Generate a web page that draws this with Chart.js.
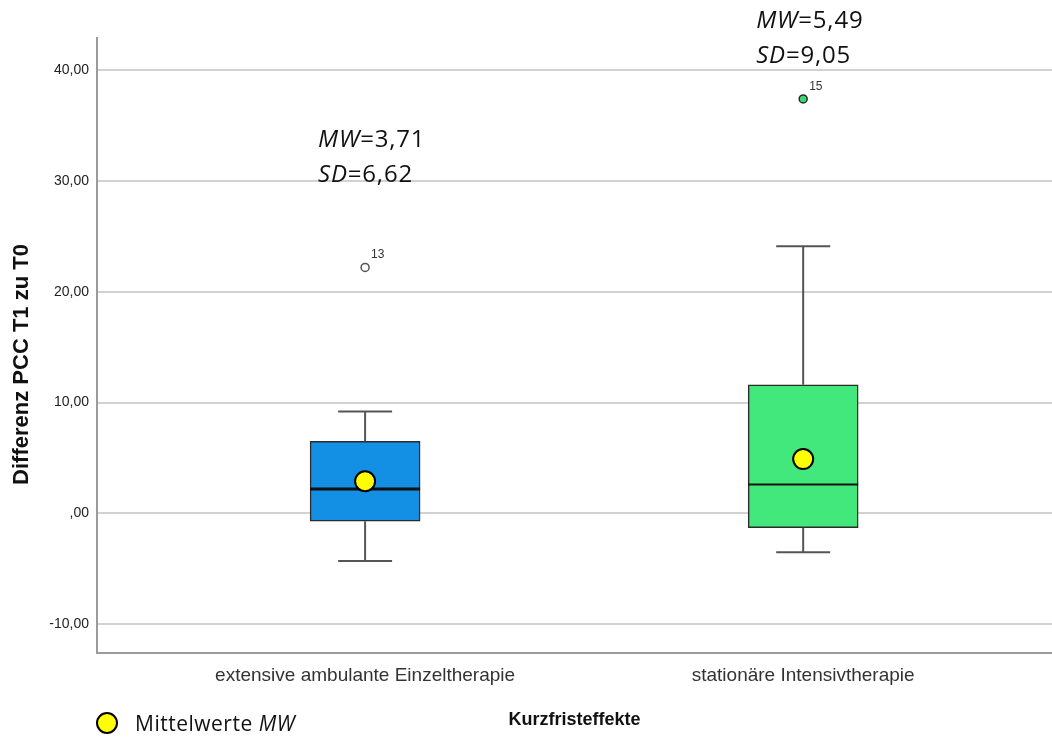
<!DOCTYPE html>
<html lang="de">
<head>
<meta charset="utf-8">
<title>Kurzfristeffekte</title>
<script src="https://cdn.jsdelivr.net/npm/chart.js@4.4.1/dist/chart.umd.min.js"></script>
<style>
  html, body { margin: 0; padding: 0; background: #fff; overflow: hidden; }
  #wrap { position: relative; width: 1052px; height: 739px; }
  #chart { display: block; }
</style>
</head>
<body>
<div id="wrap"><canvas id="chart"></canvas></div>
<script>
// Boxplot data
const categories = ["extensive ambulante Einzeltherapie", "stationäre Intensivtherapie"];
const groupPos = [1, 2];
const whiskerLow = [-4.3, -3.5];
const q1 = [-0.7, -1.3];
const median = [2.2, 2.6];
const q3 = [6.5, 11.6];
const whiskerHigh = [9.2, 24.1];
const means = [2.9, 4.9];
const outlierGroup = [1, 2];
const outlierValues = [22.2, 37.4];
const outlierCase = ["13", "15"];
const meanLabels = ["3,71", "5,49"];
const sdLabels = ["6,62", "9,05"];
const yTicks = [-10, 0, 10, 20, 30, 40];

const boxColors = ["#138fe4", "#42e87c"];
const sans = "'Liberation Sans', Arial, sans-serif";
const textFont = "'Open Sans', 'Noto Sans', sans-serif";

const fmt = (v) => (v === 0 ? ",00" : v.toFixed(2).replace(".", ","));

// draws mixed italic / regular pieces left to right
function drawMixed(ctx, x, y, parts, size, spacing) {
  let cx = x;
  ctx.letterSpacing = spacing + "px";
  parts.forEach(([text, italic]) => {
    ctx.font = `${italic ? "italic " : ""}${size}px ${textFont}`;
    ctx.fillText(text, cx, y);
    cx += ctx.measureText(text).width;
  });
  ctx.letterSpacing = "0px";
}

const boxPlotExtras = {
  id: "boxPlotExtras",
  afterDatasetDraw(chart, args, opts) {
    if (args.index !== 0) return;
    const { ctx, scales: { x, y } } = chart;
    const bars = args.meta.data;
    ctx.save();
    groupPos.forEach((g, i) => {
      const cx = x.getPixelForValue(g);
      const half = bars[i].width / 2;
      const capHalf = opts.capHalf;
      const yHi = y.getPixelForValue(whiskerHigh[i]);
      const yLo = y.getPixelForValue(whiskerLow[i]);
      ctx.strokeStyle = "#555";
      ctx.lineWidth = 2;
      ctx.beginPath();
      ctx.moveTo(cx, y.getPixelForValue(q3[i]));
      ctx.lineTo(cx, yHi);
      ctx.moveTo(cx - capHalf, yHi);
      ctx.lineTo(cx + capHalf, yHi);
      ctx.moveTo(cx, y.getPixelForValue(q1[i]));
      ctx.lineTo(cx, yLo);
      ctx.moveTo(cx - capHalf, yLo);
      ctx.lineTo(cx + capHalf, yLo);
      ctx.stroke();

      const ym = y.getPixelForValue(median[i]);
      ctx.strokeStyle = "#111";
      ctx.lineWidth = i === 0 ? 3 : 2;
      ctx.beginPath();
      ctx.moveTo(cx - half, ym);
      ctx.lineTo(cx + half, ym);
      ctx.stroke();
    });
    ctx.restore();
  },
  afterDraw(chart, args, opts) {
    const { ctx, scales: { x, y }, chartArea } = chart;
    ctx.save();
    ctx.fillStyle = "#111";
    ctx.textBaseline = "alphabetic";
    ctx.textAlign = "left";

    // MW / SD annotations above each box
    groupPos.forEach((g, i) => {
      const left = x.getPixelForValue(g) + opts.labelDx;
      const base = y.getPixelForValue(opts.labelValue[i]);
      drawMixed(ctx, left, base, [["MW", true], ["=" + meanLabels[i], false]], 24, 0.8);
      drawMixed(ctx, left, base + 35, [["SD", true], ["=" + sdLabels[i], false]], 24, 0.8);
    });

    // case numbers next to outliers
    ctx.font = `12px ${sans}`;
    ctx.fillStyle = "#333";
    outlierValues.forEach((v, i) => {
      ctx.fillText(outlierCase[i], x.getPixelForValue(outlierGroup[i]) + 6, y.getPixelForValue(v) - 9);
    });

    // y axis title
    ctx.save();
    ctx.translate(22, (chartArea.top + chartArea.bottom) / 2 + 19);
    ctx.rotate(-Math.PI / 2);
    ctx.textAlign = "center";
    ctx.textBaseline = "middle";
    ctx.font = `bold 22px ${sans}`;
    ctx.fillStyle = "#111";
    ctx.fillText("Differenz PCC T1 zu T0", 0, 0);
    ctx.restore();

    // legend for the mean markers
    ctx.beginPath();
    ctx.arc(107, 723, 10, 0, Math.PI * 2);
    ctx.fillStyle = "#ffff00";
    ctx.fill();
    ctx.lineWidth = 2;
    ctx.strokeStyle = "#000";
    ctx.stroke();
    ctx.fillStyle = "#111";
    drawMixed(ctx, 135, 731, [["Mittelwerte ", false], ["MW", true]], 21, 0.5);
    ctx.restore();
  },
};

new Chart(document.getElementById("chart"), {
  type: "bar",
  data: {
    datasets: [
      {
        label: "Box",
        data: groupPos.map((g, i) => ({ x: g, y: [q1[i], q3[i]] })),
        backgroundColor: boxColors,
        borderColor: "#2b2b2b",
        borderWidth: 1.5,
        borderSkipped: false,
        barThickness: 110,
        order: 2,
      },
      {
        type: "scatter",
        label: "Ausreißer",
        data: outlierValues.map((v, i) => ({ x: outlierGroup[i], y: v })),
        pointRadius: 4,
        pointBackgroundColor: ["#ffffff", "#3fd873"],
        pointBorderColor: ["#555555", "#2a2a2a"],
        pointBorderWidth: 1.5,
        order: 1,
      },
      {
        type: "scatter",
        label: "Mittelwerte MW",
        data: groupPos.map((g, i) => ({ x: g, y: means[i] })),
        pointRadius: 10,
        pointBackgroundColor: "#ffff00",
        pointBorderColor: "#000000",
        pointBorderWidth: 2,
        order: 0,
      },
    ],
  },
  options: {
    responsive: true,
    maintainAspectRatio: false,
    animation: false,
    layout: { autoPadding: false, padding: { top: 38, right: 0, bottom: 0, left: 0 } },
    plugins: {
      legend: { display: false },
      tooltip: { enabled: false },
      boxPlotExtras: { capHalf: 27, labelDx: -47, labelValue: [33.1, 43.8] },
    },
    scales: {
      x: {
        type: "linear",
        min: 0.388,
        max: 2.568,
        offset: false,
        afterBuildTicks: (s) => { s.ticks = groupPos.map((v) => ({ value: v })); },
        afterFit: (s) => {
          s.height = 86;
          s.paddingLeft = 0;
          s.paddingRight = 0;
        },
        grid: { display: false, drawTicks: false, offset: false },
        border: { display: true, color: "#9a9a9a", width: 2 },
        ticks: {
          padding: 11,
          color: "#333",
          autoSkip: false,
          maxRotation: 0,
          font: { family: sans, size: 19 },
          callback: (v) => categories[groupPos.indexOf(v)] ?? "",
        },
        title: {
          display: true,
          text: "Kurzfristeffekte",
          color: "#111",
          font: { family: sans, size: 18, weight: "bold" },
          padding: { top: 0, bottom: 8 },
        },
      },
      y: {
        min: -12.6,
        max: 42.9,
        afterBuildTicks: (s) => { s.ticks = yTicks.map((v) => ({ value: v })); },
        afterFit: (s) => {
          s.width = 97;
          s.paddingTop = 0;
          s.paddingBottom = 0;
        },
        grid: { color: "#d2d2d2", lineWidth: 2, drawTicks: false },
        border: { color: "#9a9a9a", width: 2 },
        ticks: {
          padding: 8,
          color: "#222",
          font: { family: sans, size: 14 },
          callback: (v) => fmt(v),
        },
      },
    },
  },
  plugins: [boxPlotExtras],
});
</script>
</body>
</html>
